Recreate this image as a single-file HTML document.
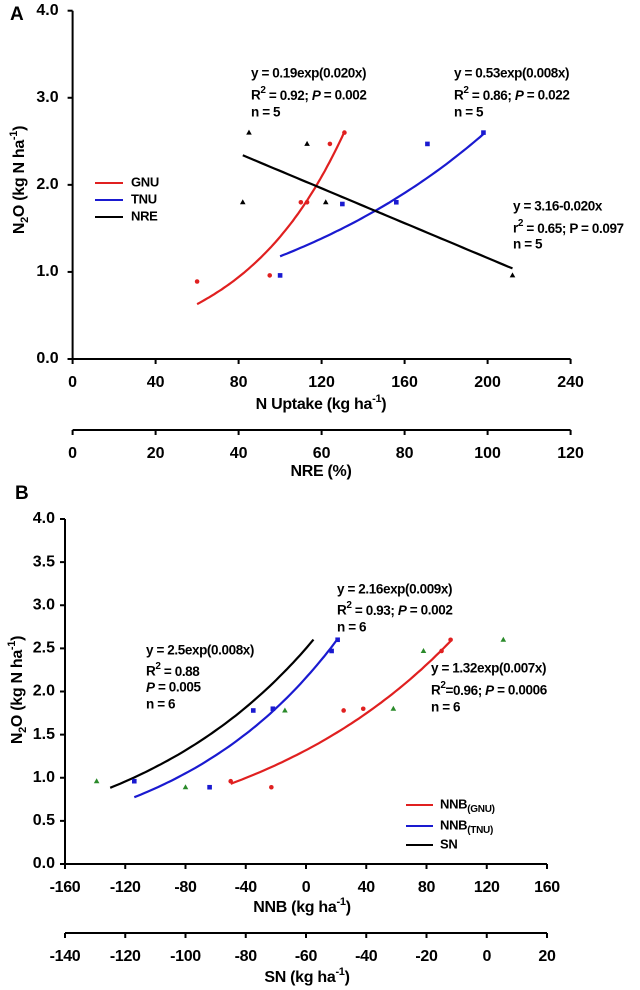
<!DOCTYPE html>
<html><head><meta charset="utf-8"><style>
body{margin:0;background:#fff}
svg{display:block;font-family:"Liberation Sans",Arial,sans-serif;font-weight:bold}
</style></head><body>
<svg id="chart" width="640" height="990" viewBox="0 0 640 990"></svg>
<script>
// Panel A data
const aGnuX=[60,95,110,113,124,131];
const aGnuY=[0.89,0.96,1.8,1.8,2.47,2.6];
const aTnuX=[100,130,156,171,198];
const aTnuY=[0.96,1.78,1.8,2.47,2.6];
const aNreX=[42.5,56.5,41,61,106];
const aNreY=[2.6,2.47,1.8,1.8,0.96];
const aGnuFit=[0.19,0.020,60,131];
const aTnuFit=[0.53,0.008,100,198];
const aNreFit=[3.16,-0.020,41,106];
const aYTicks=["0.0","1.0","2.0","3.0","4.0"];
const aXTicks=[0,40,80,120,160,200,240];
const aX2Ticks=[0,20,40,60,80,100,120];
// Panel B data
const bGnuX=[-50,-23,25,38,90,96];
const bGnuY=[0.96,0.89,1.78,1.8,2.47,2.6];
const bTnuX=[-114,-64,-35,-22,17,21];
const bTnuY=[0.96,0.89,1.78,1.8,2.47,2.6];
const bSnX=[-129.5,-100,-67,-31,-21,5.5];
const bSnY=[0.96,0.89,1.78,1.8,2.47,2.6];
const bGnuFit=[1.32,0.007,-50,96];
const bTnuFit=[2.16,0.009,-114,21];
const bSnFit=[2.5,0.008,-130,5];
const bYTicks=["0.0","0.5","1.0","1.5","2.0","2.5","3.0","3.5","4.0"];
const bXTicks=[-160,-120,-80,-40,0,40,80,120,160];
const bX2Ticks=[-140,-120,-100,-80,-60,-40,-20,0,20];

const svg=document.getElementById('chart');
const NS='http://www.w3.org/2000/svg';
function mk(tag,attrs,parent){const e=document.createElementNS(NS,tag);for(const k in attrs)e.setAttribute(k,attrs[k]);(parent||svg).appendChild(e);return e;}
function txt(x,y,s,size,anchor,name,ls){const t=mk('text',{x:x,y:y,'font-size':size,'text-anchor':anchor||'start','dominant-baseline':'middle'});if(ls)t.setAttribute('letter-spacing',ls);t.innerHTML=s;


return t;}
const TK=16, TT=16, EQ=13.5, EQLS='-0.4', LG=13;

// ---------- Panel A ----------
const A={x0:72.6,x1:570.6,xmin:0,xmax:240,y0:359,y1:10.7,ymax:4};
const axA=v=>A.x0+(v-A.xmin)/(A.xmax-A.xmin)*(A.x1-A.x0);
const axA2=v=>A.x0+v/120*(A.x1-A.x0);
const ayA=v=>A.y0-v/A.ymax*(A.y0-A.y1);
const gA=mk('g',{});


txt(10,15,'A',19,'start','panel-a-label');
let l=mk('line',{x1:A.x0,y1:A.y1,x2:A.x0,y2:A.y0,stroke:'#000','stroke-width':2},gA);

l=mk('line',{x1:A.x0-5,y1:A.y0,x2:A.x1,y2:A.y0,stroke:'#000','stroke-width':2},gA);

aYTicks.forEach(s=>{const y=ayA(parseFloat(s));mk('line',{x1:A.x0-5,y1:y,x2:A.x0,y2:y,stroke:'#000','stroke-width':2},gA);txt(A.x0-14,y,s,TK,'end','y-tick-a');});
aXTicks.forEach(v=>{const x=axA(v);mk('line',{x1:x,y1:A.y0,x2:x,y2:A.y0+5,stroke:'#000','stroke-width':2},gA);txt(x,383,v,TK,'middle','x-tick-a');});
txt(321,405,'N Uptake (kg ha<tspan font-size="11" dy="-6">-1</tspan><tspan dy="6">)</tspan>',TT,'middle','x-axis-title-a','-0.3');
l=mk('line',{x1:A.x0,y1:430,x2:A.x1,y2:430,stroke:'#000','stroke-width':2},gA);

aX2Ticks.forEach(v=>{const x=axA2(v);mk('line',{x1:x,y1:430,x2:x,y2:435,stroke:'#000','stroke-width':2},gA);txt(x,454,v,TK,'middle','x2-tick-a');});
txt(321,472,'NRE (%)',TT,'middle','x2-axis-title-a','-0.3');
let yt=txt(0,0,'N<tspan font-size="11" dy="5">2</tspan><tspan dy="-5">O (kg N ha</tspan><tspan font-size="11" dy="-6">-1</tspan><tspan dy="6">)</tspan>',TT,'middle','y-axis-title-a','-0.3');
yt.setAttribute('transform','translate(20,180) rotate(-90)');

function curve(fit,fx,fy,color,name,lin){let d='';for(let i=0;i<=60;i++){const x=fit[2]+(fit[3]-fit[2])*i/60;const y=lin?fit[0]+fit[1]*x:fit[0]*Math.exp(fit[1]*x);d+=(i?'L':'M')+fx(x).toFixed(1)+','+fy(y).toFixed(1);}
const p=mk('path',{d:d,fill:'none',stroke:color,'stroke-width':2.2});

}
function pts(xs,ys,fx,fy,color,shape,name){xs.forEach((v,i)=>{const x=fx(v),y=fy(ys[i]);let e;
if(shape==='c')e=mk('circle',{cx:x,cy:y,r:2.3,fill:color});
else if(shape==='s')e=mk('rect',{x:x-2.3,y:y-2.3,width:4.6,height:4.6,fill:color});
else e=mk('polygon',{points:`${x},${y-3} ${x-2.8},${y+2} ${x+2.8},${y+2}`,fill:color});

});}
curve(aGnuFit,axA,ayA,'#e02020','gnu-fit-a');
curve(aTnuFit,axA,ayA,'#1a1ad0','tnu-fit-a');
curve(aNreFit,axA2,ayA,'#000','nre-fit-a',true);
pts(aGnuX,aGnuY,axA,ayA,'#e02020','c','gnu-point-a');
pts(aTnuX,aTnuY,axA,ayA,'#1a1ad0','s','tnu-point-a');
pts(aNreX,aNreY,axA2,ayA,'#000','t','nre-point-a');
const R2=(a,b)=>a+'<tspan font-size="10" dy="-6">2</tspan><tspan dy="6">'+b+'</tspan>';
txt(251,74,'y = 0.19exp(0.020x)',EQ,'start','gnu-equation-a',EQLS);
txt(251,96,R2('R',' = 0.92; ')+'<tspan font-style="italic">P</tspan> = 0.002',EQ,'start','gnu-r2-a',EQLS);
txt(251,113,'n = 5',EQ,'start','gnu-n-a',EQLS);
txt(454,74,'y = 0.53exp(0.008x)',EQ,'start','tnu-equation-a',EQLS);
txt(454,96,R2('R',' = 0.86; ')+'<tspan font-style="italic">P</tspan> = 0.022',EQ,'start','tnu-r2-a',EQLS);
txt(454,113,'n = 5',EQ,'start','tnu-n-a',EQLS);
txt(513,207,'y = 3.16-0.020x',EQ,'start','nre-equation-a',EQLS);
txt(513,229,R2('r',' = 0.65; P = 0.097'),EQ,'start','nre-r2-a',EQLS);
txt(513,245,'n = 5',EQ,'start','nre-n-a',EQLS);
[['GNU','#e02020',183],['TNU','#1a1ad0',200],['NRE','#000',217]].forEach(a=>{const ln=mk('line',{x1:95,y1:a[2],x2:123,y2:a[2],stroke:a[1],'stroke-width':2});


txt(131,a[2],a[0],LG,'start','legend-entry-'+a[0].toLowerCase(),'-0.3');});

// ---------- Panel B ----------
const B={x0:65,x1:547,xmin:-160,xmax:160,y0:864,y1:519,ymax:4};
const axB=v=>B.x0+(v-B.xmin)/(B.xmax-B.xmin)*(B.x1-B.x0);
const axB2=v=>B.x0+(v+140)/160*(B.x1-B.x0);
const ayB=v=>B.y0-v/B.ymax*(B.y0-B.y1);
txt(15,494,'B',19,'start','panel-b-label');
l=mk('line',{x1:B.x0,y1:B.y1,x2:B.x0,y2:B.y0,stroke:'#000','stroke-width':2});

l=mk('line',{x1:B.x0-5,y1:B.y0,x2:B.x1,y2:B.y0,stroke:'#000','stroke-width':2});

bYTicks.forEach(s=>{const y=ayB(parseFloat(s));mk('line',{x1:B.x0-5,y1:y,x2:B.x0,y2:y,stroke:'#000','stroke-width':2});txt(B.x0-10,y,s,TK,'end','y-tick-b');});
bXTicks.forEach(v=>{const x=axB(v);mk('line',{x1:x,y1:B.y0,x2:x,y2:B.y0+5,stroke:'#000','stroke-width':2});txt(x,888,v,TK,'middle','x-tick-b','-0.3');});
txt(302,908,'NNB (kg ha<tspan font-size="11" dy="-6">-1</tspan><tspan dy="6">)</tspan>',TT,'middle','x-axis-title-b','-0.3');
l=mk('line',{x1:B.x0,y1:933,x2:B.x1,y2:933,stroke:'#000','stroke-width':2});

bX2Ticks.forEach(v=>{const x=axB2(v);mk('line',{x1:x,y1:933,x2:x,y2:938,stroke:'#000','stroke-width':2});txt(x,957,v,TK,'middle','x2-tick-b','-0.3');});
txt(307,978,'SN (kg ha<tspan font-size="11" dy="-6">-1</tspan><tspan dy="6">)</tspan>',TT,'middle','x2-axis-title-b','-0.3');
yt=txt(0,0,'N<tspan font-size="11" dy="5">2</tspan><tspan dy="-5">O (kg N ha</tspan><tspan font-size="11" dy="-6">-1</tspan><tspan dy="6">)</tspan>',TT,'middle','y-axis-title-b','-0.3');
yt.setAttribute('transform','translate(18,690) rotate(-90)');
curve(bSnFit,axB,ayB,'#000','sn-fit-b');
curve(bTnuFit,axB,ayB,'#1a1ad0','tnu-fit-b');
curve(bGnuFit,axB,ayB,'#e02020','gnu-fit-b');
pts(bGnuX,bGnuY,axB,ayB,'#e02020','c','gnu-point-b');
pts(bTnuX,bTnuY,axB,ayB,'#1a1ad0','s','tnu-point-b');
pts(bSnX,bSnY,axB2,ayB,'#2a8a2a','t','sn-point-b');
txt(337,590,'y = 2.16exp(0.009x)',EQ,'start','tnu-equation-b',EQLS);
txt(337,611,R2('R',' = 0.93; ')+'<tspan font-style="italic">P</tspan> = 0.002',EQ,'start','tnu-r2-b',EQLS);
txt(337,628,'n = 6',EQ,'start','tnu-n-b',EQLS);
txt(146,651,'y = 2.5exp(0.008x)',EQ,'start','sn-equation-b',EQLS);
txt(146,672,R2('R',' = 0.88'),EQ,'start','sn-r2-b',EQLS);
txt(146,688,'<tspan font-style="italic">P</tspan> = 0.005',EQ,'start','sn-p-b',EQLS);
txt(146,705,'n = 6',EQ,'start','sn-n-b',EQLS);
txt(431,669,'y = 1.32exp(0.007x)',EQ,'start','gnu-equation-b',EQLS);
txt(431,691,R2('R','=0.96; ')+'<tspan font-style="italic">P</tspan> = 0.0006',EQ,'start','gnu-r2-b',EQLS);
txt(431,708,'n = 6',EQ,'start','gnu-n-b',EQLS);
[['NNB<tspan font-size="10" dy="4">(GNU)</tspan>','#e02020',805,'gnu'],['NNB<tspan font-size="10" dy="4">(TNU)</tspan>','#1a1ad0',826,'tnu'],['SN','#000',845,'sn']].forEach(a=>{const ln=mk('line',{x1:406,y1:a[2],x2:433,y2:a[2],stroke:a[1],'stroke-width':2});


txt(440,a[2],a[0],LG,'start','legend-entry-b-'+a[3],'-0.3');});
</script>
</body></html>
